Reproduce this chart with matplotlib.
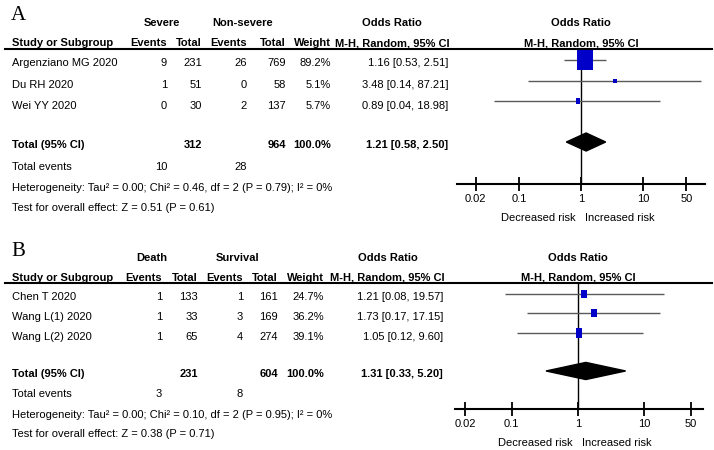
import matplotlib
matplotlib.use("Agg")
import matplotlib.pyplot as plt
from matplotlib import font_manager
import numpy as np

# narrow font if we have it, else plain Liberation Sans a bit smaller
names = {f.name for f in font_manager.fontManager.ttflist}
if "Liberation Sans Narrow" in names:
    FONT, FS = "Liberation Sans Narrow", 9.4
else:
    FONT, FS = "Liberation Sans", 8.0
plt.rcParams["font.family"] = [FONT, "DejaVu Sans"]

## DATA

# panel A - severe vs non-severe
studies_a = ["Argenziano MG 2020", "Du RH 2020", "Wei YY 2020"]
sev_events = [9, 1, 0]
sev_total = [231, 51, 30]
non_events = [26, 0, 2]
non_total = [769, 58, 137]
weight_a = [89.2, 5.1, 5.7]
or_a = [1.16, 3.48, 0.89]
lo_a = [0.53, 0.14, 0.04]
hi_a = [2.51, 87.21, 18.98]
total_a = [312, 964]
total_events_a = [10, 28]
pooled_a = [1.21, 0.58, 2.50]
het_a = "Heterogeneity: Tau² = 0.00; Chi² = 0.46, df = 2 (P = 0.79); I² = 0%"
test_a = "Test for overall effect: Z = 0.51 (P = 0.61)"

# panel B - death vs survival
studies_b = ["Chen T 2020", "Wang L(1) 2020", "Wang L(2) 2020"]
death_events = [1, 1, 1]
death_total = [133, 33, 65]
surv_events = [1, 3, 4]
surv_total = [161, 169, 274]
weight_b = [24.7, 36.2, 39.1]
or_b = [1.21, 1.73, 1.05]
lo_b = [0.08, 0.17, 0.12]
hi_b = [19.57, 17.15, 9.60]
total_b = [231, 604]
total_events_b = [3, 8]
pooled_b = [1.31, 0.33, 5.20]
het_b = "Heterogeneity: Tau² = 0.00; Chi² = 0.10, df = 2 (P = 0.95); I² = 0%"
test_b = "Test for overall effect: Z = 0.38 (P = 0.71)"

ticks = [0.02, 0.1, 1, 10, 50]
tick_labels = ["0.02", "0.1", "1", "10", "50"]

W, H = 714, 450
fig = plt.figure(figsize=(W / 100, H / 100), dpi=100)
bg = fig.add_axes([0, 0, 1, 1])
bg.set_xlim(0, W)
bg.set_ylim(H, 0)
bg.axis("off")

# rectangle marker, a bit taller than wide like the original
BOX = [(-0.75, -1), (0.75, -1), (0.75, 1), (-0.75, 1), (-0.75, -1)]


def txt(x, y, s, ha="left", bold=False, **kw):
    bg.text(x, y, s, ha=ha, va="center", fontsize=FS,
            fontweight="bold" if bold else "normal", **kw)


def draw_panel(letter, groups, studies, ev1, tot1, ev2, tot2, weights, ors, los, his,
               totals, total_events, pooled, het, test, xlim, lay):
    c = lay["cols"]
    gx = lay["group_x"]

    # header
    bg.text(11, lay["letter_y"], letter, fontsize=15, family="Liberation Serif",
            ha="left", va="center")
    txt(gx[0], lay["group_y"], groups[0], ha="center", bold=True)
    txt(gx[1], lay["group_y"], groups[1], ha="center", bold=True)
    txt(gx[2], lay["group_y"], "Odds Ratio", ha="center", bold=True)
    txt(lay["or_x"], lay["group_y"], "Odds Ratio", ha="center", bold=True)
    hy = lay["head_y"]
    txt(12, hy, "Study or Subgroup", bold=True)
    for x, s in zip(c[:5], ["Events", "Total", "Events", "Total", "Weight"]):
        txt(x, hy, s, ha="right", bold=True)
    txt(c[5] + 2, hy, "M-H, Random, 95% CI", ha="right", bold=True)
    txt(lay["or_x"], hy, "M-H, Random, 95% CI", ha="center", bold=True)
    bg.plot([5, 712], [lay["line_y"]] * 2, color="black", lw=1.5)

    # study rows
    for i, name in enumerate(studies):
        y = lay["row_y"] + lay["row_dy"] * i
        txt(12, y, name)
        txt(c[0], y, str(ev1[i]), ha="right")
        txt(c[1], y, str(tot1[i]), ha="right")
        txt(c[2], y, str(ev2[i]), ha="right")
        txt(c[3], y, str(tot2[i]), ha="right")
        txt(c[4], y, f"{weights[i]:.1f}%", ha="right")
        txt(c[5], y, f"{ors[i]:.2f} [{los[i]:.2f}, {his[i]:.2f}]", ha="right")

    # totals
    y = lay["total_y"]
    txt(12, y, "Total (95% CI)", bold=True)
    txt(c[1], y, str(totals[0]), ha="right", bold=True)
    txt(c[3], y, str(totals[1]), ha="right", bold=True)
    txt(c[4], y, "100.0%", ha="right", bold=True)
    txt(c[5], y, f"{pooled[0]:.2f} [{pooled[1]:.2f}, {pooled[2]:.2f}]", ha="right", bold=True)
    y = lay["events_y"]
    txt(12, y, "Total events")
    txt(c[0], y, str(total_events[0]), ha="right")
    txt(c[2], y, str(total_events[1]), ha="right")
    txt(12, lay["het_y"], het)
    txt(12, lay["test_y"], test)

    # forest plot
    x0, y0, x1, y1 = lay["box"]
    ax = fig.add_axes([x0 / W, 1 - y1 / H, (x1 - x0) / W, (y1 - y0) / H])
    ax.set_xscale("log")
    ax.set_xlim(*xlim)
    ax.set_ylim(*lay["ylim"])
    ax.patch.set_alpha(0)
    for s in ["top", "right", "left"]:
        ax.spines[s].set_visible(False)
    ax.spines["bottom"].set_linewidth(1.5)
    ax.set_yticks([])
    ax.set_xticks(ticks)
    ax.set_xticklabels(tick_labels, fontsize=FS)
    ax.xaxis.set_minor_locator(matplotlib.ticker.NullLocator())
    ax.tick_params(axis="x", direction="inout", length=10, width=1.3, pad=2)

    rows = np.arange(len(studies))
    ax.axvline(1, color="black", lw=1)
    ax.hlines(rows, los, his, color="#5a5a5a", lw=1)
    for i in rows:
        size = lay["msize"] * np.sqrt(weights[i]) * 0.72
        ax.plot(ors[i], i, marker=BOX, markersize=size, color="#0000c8",
                markeredgewidth=0, zorder=5, clip_on=False)
    h = 0.44
    tr = lay["total_row"]
    ax.fill([pooled[1], pooled[0], pooled[2], pooled[0]],
            [tr, tr - h, tr, tr + h], color="black", zorder=4)

    ry = lay["risk_y"]
    txt(lay["or_x"] - 5, ry, "Decreased risk", ha="right")
    txt(lay["or_x"] + 4, ry, "Increased risk", ha="left")


lay_a = dict(letter_y=16, group_y=23, head_y=43, line_y=49, row_y=63, row_dy=21.5,
             total_y=145, events_y=167, het_y=188, test_y=208,
             cols=[167, 202, 247, 286, 331, 448], group_x=[162, 243, 392],
             or_x=581, box=[457, 49, 705, 184], ylim=(6.05, -0.54), total_row=4,
             msize=2.12, risk_y=218)
lay_b = dict(letter_y=251, group_y=258, head_y=278, line_y=283, row_y=297, row_dy=20,
             total_y=374, events_y=394, het_y=415, test_y=434,
             cols=[162, 198, 243, 278, 324, 443], group_x=[152, 238, 388],
             or_x=578, box=[455, 284, 703, 409], ylim=(5.9, -0.51), total_row=3.95,
             msize=1.44, risk_y=443)

draw_panel("A", ["Severe", "Non-severe"], studies_a, sev_events, sev_total, non_events,
           non_total, weight_a, or_a, lo_a, hi_a, total_a, total_events_a, pooled_a,
           het_a, test_a, (0.01, 100), lay_a)
draw_panel("B", ["Death", "Survival"], studies_b, death_events, death_total, surv_events,
           surv_total, weight_b, or_b, lo_b, hi_b, total_b, total_events_b, pooled_b,
           het_b, test_b, (0.0141, 75.9), lay_b)

fig.savefig("out.png", dpi=100)
